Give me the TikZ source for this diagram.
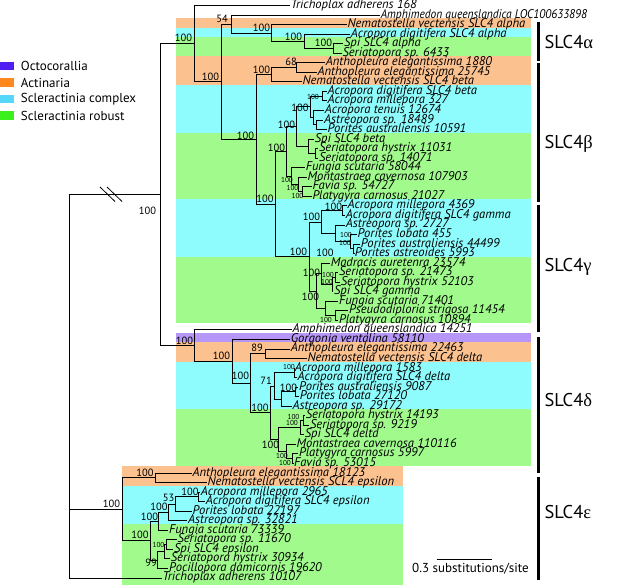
\documentclass[tikz,border=0pt]{standalone}
\usepackage{fontspec}
\setmainfont{PT Sans}
\newfontfamily\greekfont{Liberation Serif}
\usetikzlibrary{positioning}
\definecolor{bandorange}{RGB}{251,193,143}
\definecolor{bandcyan}{RGB}{142,252,252}
\definecolor{bandgreen}{RGB}{160,250,140}
\definecolor{bandpurple}{RGB}{182,150,246}
\definecolor{octo}{RGB}{80,30,240}
\definecolor{actin}{RGB}{255,135,30}
\definecolor{sclcpx}{RGB}{85,215,250}
\definecolor{sclrob}{RGB}{60,240,30}
\tikzstyle{taxon}=[anchor=west,inner xsep=0.6pt,inner ysep=0pt,font=\fontsize{12.6}{13}\selectfont\itshape,text height=8.8pt,text depth=2.7pt]
\tikzstyle{branch}=[draw,line width=0.8pt]
\tikzstyle{support}=[inner sep=0pt,font=\fontsize{10.5}{11}\selectfont]
\tikzstyle{smallsupport}=[inner sep=0pt,font=\fontsize{7.2}{8}\selectfont]
\tikzstyle{legendbox}=[anchor=west,minimum width=14pt,minimum height=8.5pt,inner sep=0pt]
\tikzstyle{legendtext}=[anchor=west,inner sep=0pt,font=\fontsize{13}{14}\selectfont]
\tikzstyle{family}=[anchor=west,inner sep=0pt,font=\fontsize{18.5}{19}\selectfont]
\tikzstyle{bracket}=[draw,line width=2.5pt]

\begin{document}
\begin{tikzpicture}[x=1pt,y=-1pt]
\useasboundingbox (0,0) rectangle (617,585);

    % First we draw the coloured bands
    \foreach \top/\bot/\col in {18.08/27.62/bandorange, 27.62/37.16/bandcyan, 37.16/56.24/bandgreen, 56.24/84.86/bandorange, 84.86/132.56/bandcyan, 132.56/199.34/bandgreen, 199.34/256.58/bandcyan, 256.58/323.36/bandgreen, 332.9/342.44/bandpurple, 342.44/361.52/bandorange, 361.52/409.22/bandcyan, 409.22/466.46/bandgreen}
        \fill[\col] (176,\top) rectangle (531,\bot);
    \foreach \top/\bot/\col in {466.46/485.54/bandorange, 485.54/523.7/bandcyan, 523.7/585/bandgreen}
        \fill[\col] (121.7,\top) rectangle (403,\bot);

    % Legend
    \foreach \y/\col/\name/\txt in {66/octo/lgo/Octocorallia, 82.5/actin/lga/Actinaria, 99/sclcpx/lgc/Scleractinia complex, 115.5/sclrob/lgr/Scleractinia robust}
        {\node[legendbox,fill=\col] (\name) at (0,\y) {};
         \node[legendtext] (\name txt) at (20.7,\y) {\txt};}

    % Then the taxa
    \node[taxon] (t2) at (380,15.04) {\scalebox{0.91}[1]{Amphimedon queenslandica LOC100633898}};
    \foreach \y/\tip/\name/\txt in {5.5/290/t1/Trichoplax adherens 168, 24.58/346.7/t3/Nematostella vectensis SLC4 alpha, 34.12/350/t4/Acropora digitifera SLC4 alpha, 43.66/343.3/t5/Spi SLC4 alpha, 53.2/341.7/t6/Seriatopora sp. 6433, 62.74/325/t7/Anthopleura elegantissima 1880, 72.28/316.7/t8/Anthopleura elegantissima 25745, 81.82/301.7/t9/Nematostella vectensis SLC4 beta, 91.36/326.7/t10/Acropora digitifera SLC4 beta, 100.9/326.7/t11/Acropora millepora 327, 110.44/324/t12/Acropora tenuis 12674, 119.98/323.3/t13/Astreopora sp. 18489, 129.52/326.7/t14/Porites australiensis 10591, 139.06/314/t15/Spi SLC4 beta, 148.6/318.3/t16/Seriatopora hystrix 11031, 158.14/318.3/t17/Seriatopora sp. 14071, 167.68/305/t18/Fungia scutaria 58044, 177.22/306.7/t19/Montastraea cavernosa 107903, 186.76/311.7/t20/Favia sp. 54727, 196.3/311.7/t21/Platygyra carnosus 21027, 205.84/346.7/t22/Acropora millepora 4369, 215.38/345/t23/Acropora digitifera SLC4 gamma, 224.92/345/t24/Astreopora sp. 2727, 234.46/356.7/t25/Porites lobata 455, 244.0/360/t26/Porites australiensis 44499, 253.54/354/t27/Porites astreoides 5993, 263.08/330/t28/Madracis auretenra 23574, 272.62/338.3/t29/Seriatopora sp. 21473, 282.16/340/t30/Seriatopora hystrix 52103, 291.7/333.3/t31/Spi SLC4 gamma, 301.24/338.3/t32/Fungia scutaria 71401, 310.78/348.3/t33/Pseudodiploria strigosa 11454, 320.32/338.3/t34/Platygyra carnosus 10894, 329.86/291.7/t35/Amphimedon queenslandica 14251, 339.4/290/t36/Gorgonia ventalina 58110, 348.94/290/t37/Anthopleura elegantissima 22463, 358.48/306.7/t38/Nematostella vectensis SLC4 delta, 368.02/294/t39/Acropora millepora 1583, 377.56/296.7/t40/Acropora digitifera SLC4 delta, 387.1/298.3/t41/Porites australiensis 9087, 396.64/299/t42/Porites lobata 27120, 406.18/291.7/t43/Astreopora sp. 29172, 415.72/305/t44/Seriatopora hystrix 14193, 425.26/309.3/t45/Seriatopora sp. 9219, 434.8/304/t46/Spi SLC4 delta, 444.34/295.7/t47/Montastraea cavernosa 110116, 453.88/298.3/t48/Platygyra carnosus 5997, 463.42/293.3/t49/Favia sp. 53015, 472.96/191.7/t50/Anthopleura elegantissima 18123, 482.5/206.7/t51/Nematostella vectensis SCL4 epsilon, 492.04/200/t52/Acropora millepora 2965, 501.58/205/t53/Acropora digitifera SLC4 epsilon, 511.12/191.7/t54/Porites lobata 22197, 520.66/187.3/t55/Astreopora sp. 32821, 530.2/168.3/t56/Fungia scutaria 73339, 539.74/176.7/t57/Seriatopora sp. 11670, 549.28/173.3/t58/Spi SLC4 epsilon, 558.82/170/t59/Seriatopora hystrix 30934, 568.36/168.3/t60/Pocillopora damicornis 19620, 577.9/161.7/t61/Trichoplax adherens 10107}
        \node[taxon] (\name) at (\tip,\y) {\txt};

    % Internal nodes of the tree
    \foreach \x/\y/\name in {69/194.58/nRoot, 160/194.58/nU, 194/43.57/nT, 221.7/81.64/nB, 231.7/23.99/n54, 271.7/32.93/nAlpha, 304/41.28/nAdA, 333.3/48.43/nSpiA, 256.7/139.29/nBeta, 271.7/74.67/nActB, 296.7/67.51/n68, 275/203.9/nBG, 286.7/151.28/nR, 296.7/126.54/nB1, 310/106.86/nCpxB, 322.3/96.13/nAdB, 313/117.6/nAtAs, 316/124.75/nAsPa, 308.3/146.21/nSpiB, 315/153.37/nShS, 291/176.03/nFs, 298/184.37/nMc, 302/191.53/nFaPc, 309.3/256.53/nGR, 321.7/221.94/nCG, 342.7/210.61/nAmG, 335/233.27/nAsG, 350/241.62/nPlG, 353.5/248.77/nPaG, 316/291.11/nRG, 321.7/273.82/nMaG, 332/284.55/nSpiG, 335/277.39/nShG, 325/308.4/nFsG, 335/315.55/nPsG, 194.3/345.59/nA, 232/361.31/nD1, 250.7/383.23/nD2, 265/353.71/n89, 270.7/412.74/nX, 274.3/385.91/n71, 294/372.79/nAmD, 281.7/399.03/nAsD, 295/391.87/nPoD, 278.3/439.57/nRD, 300/427.65/nSpiD, 303/420.49/nShD, 286.7/451.5/nMcD, 292.7/458.65/nFaD, 122.3/509.18/nE, 155/477.73/nAe, 150/540.64/nE2, 158.3/521.26/nFsE, 168.3/512.32/nAsE, 175/503.97/n53, 198.3/496.81/nAmE, 157.3/560.01/n99, 164/551.67/nShE, 166.7/544.51/nSpE}
        \coordinate (\name) at (\x,\y);

    % Connect parents with children
    \foreach \source/\dest in {nRoot/nU, nRoot/nE, nRoot/t61, nU/nT, nU/nA, nT/t1, nT/nB, nB/n54, nB/nBeta, n54/t2, n54/nAlpha, nAlpha/t3, nAlpha/nAdA, nAdA/t4, nAdA/nSpiA, nSpiA/t5, nSpiA/t6, nBeta/nActB, nBeta/nBG, nActB/n68, nActB/t9, n68/t7, n68/t8, nBG/nR, nBG/nGR, nR/nB1, nR/nFs, nB1/nCpxB, nB1/nSpiB, nCpxB/nAdB, nCpxB/nAtAs, nAdB/t10, nAdB/t11, nAtAs/t12, nAtAs/nAsPa, nAsPa/t13, nAsPa/t14, nSpiB/t15, nSpiB/nShS, nShS/t16, nShS/t17, nFs/t18, nFs/nMc, nMc/t19, nMc/nFaPc, nFaPc/t20, nFaPc/t21, nGR/nCG, nGR/nRG, nCG/nAmG, nCG/nAsG, nAmG/t22, nAmG/t23, nAsG/t24, nAsG/nPlG, nPlG/t25, nPlG/nPaG, nPaG/t26, nPaG/t27, nRG/nMaG, nRG/nFsG, nMaG/t28, nMaG/nSpiG, nSpiG/nShG, nSpiG/t31, nShG/t29, nShG/t30, nFsG/t32, nFsG/nPsG, nPsG/t33, nPsG/t34, nA/t35, nA/nD1, nD1/t36, nD1/nD2, nD2/n89, nD2/nX, n89/t37, n89/t38, nX/n71, nX/nRD, n71/nAmD, n71/nAsD, nAmD/t39, nAmD/t40, nAsD/nPoD, nAsD/t43, nPoD/t41, nPoD/t42, nRD/nSpiD, nRD/nMcD, nSpiD/nShD, nSpiD/t46, nShD/t44, nShD/t45, nMcD/t47, nMcD/nFaD, nFaD/t48, nFaD/t49, nE/nAe, nE/nE2, nAe/t50, nAe/t51, nE2/nFsE, nE2/n99, nFsE/nAsE, nFsE/t56, nAsE/n53, nAsE/t55, n53/nAmE, n53/t54, nAmE/t52, nAmE/t53, n99/nShE, n99/t60, nShE/nSpE, nShE/t59, nSpE/t57, nSpE/t58}
        \path[branch] (\source) |- (\dest);

    % Break on the long branch
    \draw[line width=0.8pt] (100,187) -- (115,201.5);
    \draw[line width=0.8pt] (107,187) -- (122,201.5);

    % Bootstrap values
    \foreach \x/\y/\txt [count=\i] in {183.5/38/100, 222/19/54, 210.5/77/100, 261.5/28/100, 293.5/37/100, 323.5/43/100, 291/62/68, 261.5/70/100, 245.5/136/100, 265/199/100, 276.5/148/100, 286.5/125/100, 300/108/100, 333.5/206.7/100, 311.5/217/100, 298.5/252/100, 325/253/100, 311.5/273/100, 310.5/297/100, 147.5/211/100, 184.5/341/100, 221.5/356/100, 240.5/376/100, 257/348/89, 260/408/100, 266/381/71, 288.5/388/100, 270.5/445/100, 111.5/504/100, 145/473/100, 140/535/100, 159/507/100, 168.5/498/53, 190/492/100, 149.5/517/100, 151/563/99}
        \node[support] (bs\i) at (\x,\y) {\txt};
    \foreach \x/\y/\txt [count=\i] in {313/96.5/100, 287/180/100, 292.5/188/100, 297.5/196/100, 346/235/100, 345/243/100, 328/275/100, 327/281.7/100, 326/320/100, 289/367/100, 282/456/100, 285/463/100, 293.5/416.7/100, 292/423.3/100, 158.5/545/100}
        \node[smallsupport] (ss\i) at (\x,\y) {\txt};

    % Gene family brackets
    \foreach \top/\bot/\ly/\name/\greek in {21.7/60.7/42/fa/α, 62.7/201.7/144/fb/β, 205/331.7/267/fc/γ, 337/473/400/fd/δ, 477/580/512/fe/ε}
        {\coordinate (\name top) at (538.7,\top);
         \coordinate (\name bot) at (538.7,\bot);
         \path[bracket] (\name top) -- (\name bot);
         \node[family] (\name) at (544.3,\ly) {SLC4{\greekfont\greek}};}

    % Scale bar
    \coordinate (sbl) at (436.7,559);
    \coordinate (sbr) at (491.7,559);
    \draw[line width=0.9pt] (sbl) -- (sbr);
    \node[inner sep=0pt,font=\fontsize{13}{14}\selectfont] (sbtext) at (470.5,568.5) {0.3 substitutions/site};

\end{tikzpicture}
\end{document}
